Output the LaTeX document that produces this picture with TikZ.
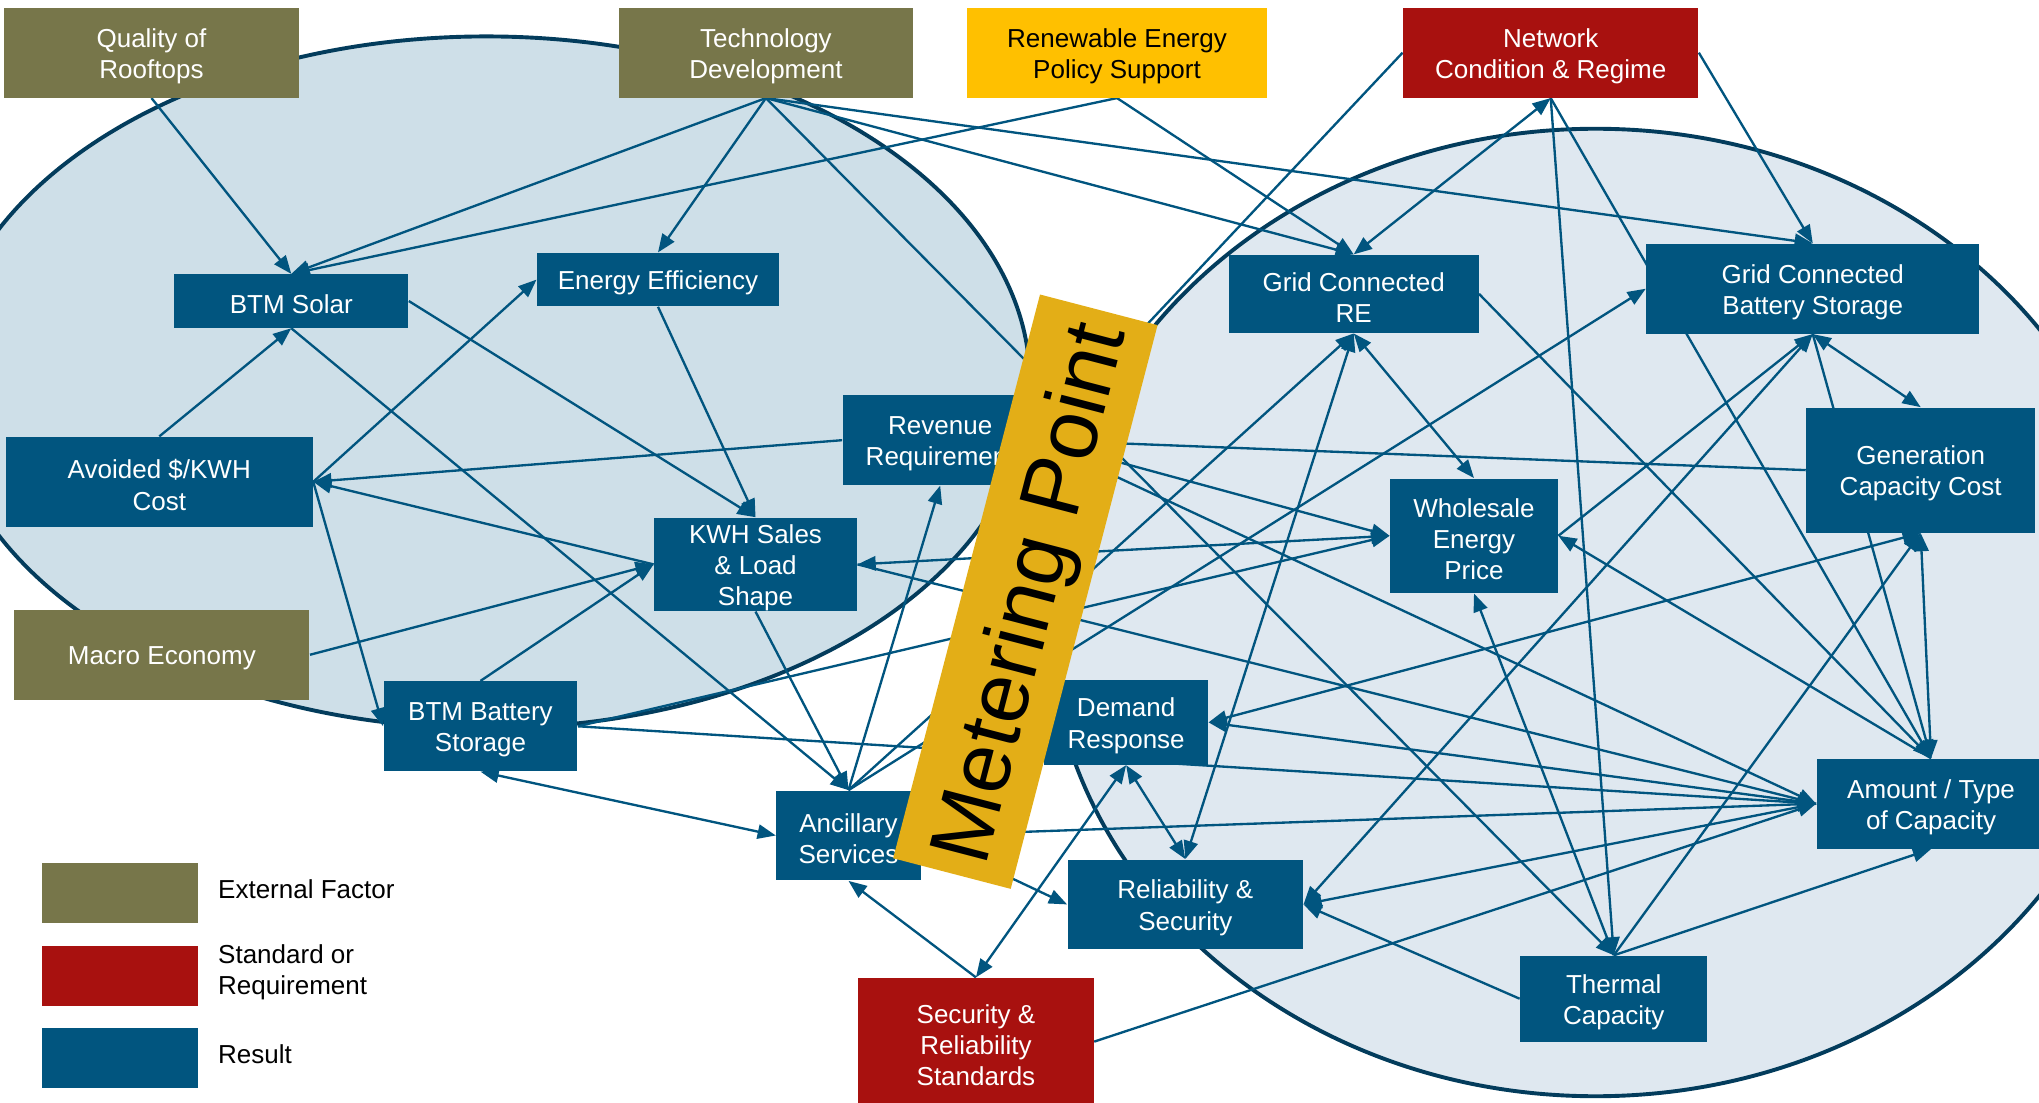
\documentclass[tikz,border=0pt]{standalone}
\usepackage{fontspec}
\setmainfont{Liberation Sans}
\usetikzlibrary{positioning,arrows.meta}
\pgfdeclarelayer{rims}
\pgfdeclarelayer{links}
\pgfsetlayers{rims,links,main}

\definecolor{factorolive}{HTML}{77764A}
\definecolor{standardred}{HTML}{A8110F}
\definecolor{supportgold}{HTML}{FFC000}
\definecolor{resultblue}{HTML}{01557F}
\definecolor{meteryellow}{HTML}{E3AE17}
\definecolor{btmfill}{HTML}{CEDFE8}
\definecolor{gridfill}{HTML}{DFE8F0}
\definecolor{rimblue}{HTML}{033C5C}

\newcommand{\topgap}{\rule{0pt}{9.8pt}}

\begin{document}
\begin{tikzpicture}[
    x=0.5pt, y=-0.5pt,
    box/.style={rectangle, inner sep=0pt, align=center, font=\fontsize{10pt}{12pt}\selectfont},
    factorbox/.style 2 args={box, fill=factorolive, text=white, minimum width=#1, minimum height=#2},
    standardbox/.style 2 args={box, fill=standardred, text=white, minimum width=#1, minimum height=#2},
    supportbox/.style 2 args={box, fill=supportgold, text=black, minimum width=#1, minimum height=#2},
    resultbox/.style 2 args={box, fill=resultblue, text=white, minimum width=#1, minimum height=#2},
    keytext/.style={inner sep=0pt, align=left, yshift=1.5pt, font=\fontsize{10pt}{12pt}\selectfont},
    link/.style={draw=resultblue, line width=0.9pt, -{Triangle[length=7pt,width=5.5pt]}},
    twoway/.style={link, {Triangle[length=7pt,width=5.5pt]}-{Triangle[length=7pt,width=5.5pt]}},
    meter/.style={rectangle, rotate=75.4, fill=meteryellow, inner sep=0pt, text depth=0pt, minimum width=224pt, minimum height=46.7pt, font=\fontsize{33pt}{33pt}\selectfont},
]
\useasboundingbox (0,0) rectangle (1568,848);

\begin{pgfonlayer}{rims}
\filldraw[fill=btmfill, draw=rimblue, line width=1.5pt] (374,294) ellipse [x radius=209pt, y radius=133pt];
\filldraw[fill=gridfill, draw=rimblue, line width=1.5pt] (1227,471) ellipse [x radius=210.5pt, y radius=186pt];
\end{pgfonlayer}

\node[factorbox={113.5pt}{34.5pt}] (quality) at (116.5,40.5) {\topgap Quality of\\Rooftops};
\node[factorbox={113pt}{34.5pt}] (techdev) at (589,40.5) {\topgap Technology\\Development};
\node[supportbox={115pt}{34.5pt}] (policy) at (859,40.5) {\topgap Renewable Energy\\Policy Support};
\node[standardbox={113.5pt}{34.5pt}] (network) at (1192.5,40.5) {\topgap Network\\Condition \& Regime};
\node[factorbox={113.5pt}{34.5pt}] (macro) at (124.5,503.5) {\topgap Macro Economy};

\node[resultbox={90pt}{20.5pt}] (btmsolar) at (224,231.5) {\topgap BTM Solar};
\node[resultbox={93pt}{20.5pt}] (effic) at (506,215) {\topgap Energy Efficiency};
\node[resultbox={118pt}{34.5pt}] (avoided) at (122.5,370.5) {\topgap Avoided \$/KWH\\Cost};
\node[resultbox={75pt}{34.5pt}] (revenue) at (723,338.5) {\topgap Revenue\\Requirement};
\node[resultbox={78pt}{35pt}] (kwh) at (581,434) {\topgap KWH Sales\\\& Load\\Shape};
\node[resultbox={74.5pt}{34.5pt}] (btmbatt) at (369.5,558.5) {\topgap BTM Battery\\Storage};
\node[resultbox={55.5pt}{34.5pt}] (ancillary) at (652.5,642.5) {\topgap Ancillary\\Services};
\node[resultbox={63pt}{32.5pt}] (demand) at (866,555.5) {\topgap Demand\\Response};
\node[resultbox={90.5pt}{34.5pt}] (reliability) at (911.5,695.5) {\topgap Reliability \&\\Security};
\node[standardbox={90.5pt}{49pt}] (security) at (750.5,801) {\topgap Security \&\\Reliability\\Standards};

\node[resultbox={96pt}{30pt}] (gridre) at (1041,226) {\topgap Grid Connected\\RE};
\node[resultbox={128pt}{34.5pt}] (gridbatt) at (1394,222) {\topgap Grid Connected\\Battery Storage};
\node[resultbox={88pt}{48pt}] (gencost) at (1477,361.5) {\topgap Generation\\Capacity Cost};
\node[resultbox={64.5pt}{44pt}] (wholesale) at (1133.5,412) {\topgap Wholesale\\Energy\\Price};
\node[resultbox={88pt}{34.5pt}] (amount) at (1485,618) {\topgap Amount / Type\\of Capacity};
\node[resultbox={72pt}{33pt}] (thermal) at (1241,768) {\topgap Thermal\\Capacity};

\node[factorbox={60pt}{23pt}] (keyfactor) at (92,686.5) {};
\node[standardbox={60pt}{23pt}] (keystandard) at (92,750.5) {};
\node[resultbox={60pt}{23pt}] (keyresult) at (92,813.5) {};
\node[keytext, right=7.5pt of keyfactor] (keyfactortext) {External Factor};
\node[keytext, right=7.5pt of keystandard] (keystandardtext) {Standard or\\Requirement};
\node[keytext, right=7.5pt of keyresult] (keyresulttext) {Result};

\begin{pgfonlayer}{links}
\draw[link] (quality.south) -- (btmsolar.north);
\draw[link] (techdev.south) -- (btmsolar.north);
\draw[link] (policy.south) -- (btmsolar.north);
\draw[link] (techdev.south) -- (effic.north);
\draw[link] (techdev.south) -- (gridre.north);
\draw[link] (techdev.south) -- (gridbatt.north);
\draw[link] (techdev.south) -- (thermal.north);
\draw[link] (policy.south) -- (gridre.north);
\draw[twoway] (network.south) -- (gridre.north);
\draw[link] (network.east) -- (gridbatt.north);
\draw[link] (network.west) -- (revenue.east);
\draw[link] (network.south) -- (thermal.north);
\draw[link] (network.south) -- (amount.north);

\draw[link] (avoided.north) -- (btmsolar.south);
\draw[link] (avoided.east) -- (effic.west);
\draw[link] (btmsolar.east) -- (kwh.north);
\draw[link] (effic.south) -- (kwh.north);
\draw[link] (btmsolar.south) -- (ancillary.north);
\draw[link] (revenue.west) -- (avoided.east);
\draw[link] (kwh.west) -- (avoided.east);
\draw[link] (macro.east) -- (kwh.west);
\draw[link] (btmbatt.north) -- (kwh.west);
\draw[link] (avoided.east) -- (btmbatt.west);
\draw[link] (kwh.south) -- (ancillary.north);
\draw[link] (ancillary.north) -- (revenue.south);
\draw[twoway] (btmbatt.south) -- (ancillary.west);
\draw[link] (security.north) -- (ancillary.south);
\draw[twoway] (security.north) -- (demand.south);
\draw[twoway] (demand.south) -- (reliability.north);
\draw[link] (ancillary.east) -- (reliability.west);

\draw[link] (btmbatt.east) -- (wholesale.west);
\draw[link] (btmbatt.east) -- (amount.west);
\draw[twoway] (wholesale.west) -- (kwh.east);
\draw[link] (kwh.east) -- (amount.west);
\draw[link] (revenue.east) -- (wholesale.west);
\draw[link] (revenue.east) -- (amount.west);
\draw[link] (gencost.west) -- (revenue.east);
\draw[link] (ancillary.north) -- (gridre.south);
\draw[link] (ancillary.north) -- (gridbatt.west);
\draw[link] (ancillary.east) -- (amount.west);

\draw[twoway] (gridre.south) -- (reliability.north);
\draw[twoway] (gridre.south) -- (wholesale.north);
\draw[link] (gridre.east) -- (amount.north);
\draw[twoway] (gridbatt.south) -- (gencost.north);
\draw[link] (gridbatt.south) -- (amount.north);
\draw[twoway] (gridbatt.south) -- (reliability.east);
\draw[link] (wholesale.east) -- (gridbatt.south);
\draw[link] (amount.north) -- (wholesale.east);
\draw[link] (thermal.north) -- (wholesale.south);
\draw[link] (thermal.west) -- (reliability.east);
\draw[link] (thermal.north) -- (gencost.south);
\draw[link] (thermal.north) -- (amount.south);
\draw[twoway] (gencost.south) -- (amount.north);
\draw[twoway] (demand.east) -- (gencost.south);
\draw[link] (amount.west) -- (demand.east);
\draw[link] (amount.west) -- (reliability.east);
\draw[link] (security.east) -- (amount.west);
\end{pgfonlayer}

\node[meter] (meter) at (788.5,455) {Metering Point};
\end{tikzpicture}
\end{document}
